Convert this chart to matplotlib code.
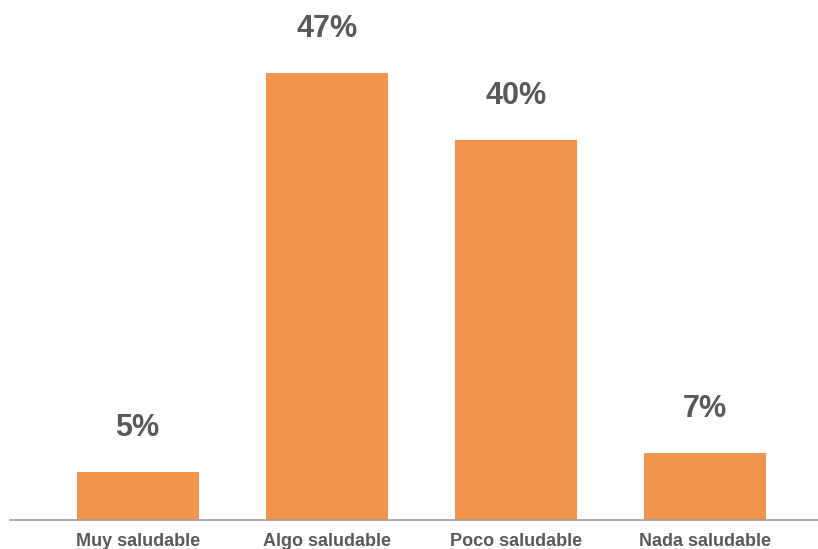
import matplotlib
matplotlib.use("Agg")
import matplotlib.pyplot as plt

categories = ["Muy saludable", "Algo saludable", "Poco saludable", "Nada saludable"]
values = [5, 47, 40, 7]
value_labels = ["5%", "47%", "40%", "7%"]

plt.rcParams["font.family"] = ["Liberation Sans", "DejaVu Sans"]

fig = plt.figure(figsize=(8.18, 5.49), dpi=100)
ax = fig.add_axes([10 / 818, 29 / 549, 808 / 818, 520 / 549])

x = list(range(len(categories)))
ax.bar(x, values, width=0.646, color="#F2944B", zorder=2)

for xi, v, lab in zip(x, values, value_labels):
    ax.annotate(lab, (xi, v), xytext=(0, 21), textcoords="offset points",
                ha="center", va="bottom", fontsize=22, fontweight="bold",
                color="#595959")

ax.set_xlim(-0.675, 3.6)
ax.set_ylim(0, 54.7)
ax.set_xticks(x)
ax.set_xticklabels(categories, fontsize=13, fontweight="bold", color="#595959")
ax.tick_params(axis="x", length=0, pad=9)
ax.set_yticks([])
for s in ["top", "right", "left"]:
    ax.spines[s].set_visible(False)
ax.spines["bottom"].set_color("#9E9E9E")
ax.spines["bottom"].set_linewidth(1.2)
ax.spines["bottom"].set_zorder(3)

fig.savefig("out.png", dpi=100)
